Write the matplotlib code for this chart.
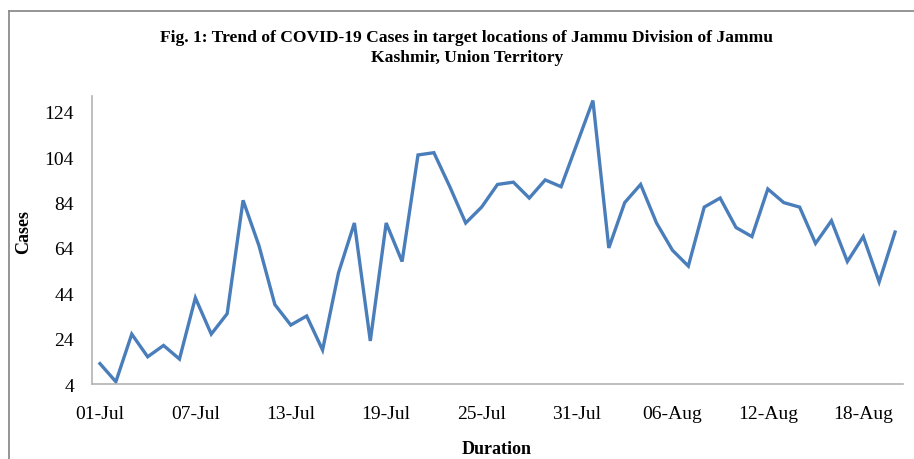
import matplotlib
matplotlib.use("Agg")
import matplotlib.pyplot as plt
from matplotlib.lines import Line2D
import numpy as np
import pandas as pd

# daily cases, 01-Jul to 20-Aug
cases = [13, 5, 26, 16, 21, 15, 42, 26, 35, 85, 65, 39, 30, 34, 19, 53, 75,
         23, 75, 58, 105, 106, 91, 75, 82, 92, 93, 86, 94, 91, 110, 129, 64,
         84, 92, 75, 63, 56, 82, 86, 73, 69, 90, 84, 82, 66, 76, 58, 69, 49, 71]
dates = pd.date_range("2020-07-01", periods=len(cases))
y_ticks = [4, 24, 44, 64, 84, 104, 124]

title = ("Fig. 1: Trend of COVID-19 Cases in target locations of Jammu Division of Jammu\n"
         "Kashmir, Union Territory")

plt.rcParams["font.family"] = ["Liberation Serif", "DejaVu Serif"]

fig = plt.figure(figsize=(9.14, 4.6), dpi=100)
ax = fig.add_axes([92 / 914, 1 - 385 / 460, (903 - 92) / 914, (385 - 97) / 460])

x = np.arange(len(cases))
ax.plot(x, cases, color="#4a7ebb", lw=2.4, solid_joinstyle="miter")

ax.set_xlim(-0.5, len(cases) - 0.5)
ax.set_ylim(4, 131)
ax.set_yticks(y_ticks)
ax.set_xticks(x[::6])
ax.set_xticklabels(dates[::6].strftime("%d-%b"))
ax.tick_params(length=0, labelsize=14)
ax.tick_params(axis="x", pad=15)
ax.tick_params(axis="y", pad=13)

for s in ["top", "right"]:
    ax.spines[s].set_visible(False)
for s in ["left", "bottom"]:
    ax.spines[s].set_color("#b3b3b3")
    ax.spines[s].set_linewidth(1.2)

fig.text(467 / 914, 1 - 48 / 460, title, ha="center", va="center",
         fontsize=12.6, fontweight="bold", linespacing=1.35)
fig.text(24 / 914, 1 - 232 / 460, "Cases", rotation=90, ha="center", va="center",
         fontsize=13, fontweight="bold")
fig.text(497 / 914, 1 - 450 / 460, "Duration", ha="center", va="center",
         fontsize=13, fontweight="bold")

# outer chart frame (only left and top edges fall inside the picture)
fig.add_artist(Line2D([8.5 / 914, 8.5 / 914], [0, 1 - 12 / 460],
                      color="#8c8c8c", lw=1.3, transform=fig.transFigure))
fig.add_artist(Line2D([8.5 / 914, 1], [1 - 12 / 460, 1 - 12 / 460],
                      color="#8c8c8c", lw=1.3, transform=fig.transFigure))

fig.savefig("out.png", dpi=100)
